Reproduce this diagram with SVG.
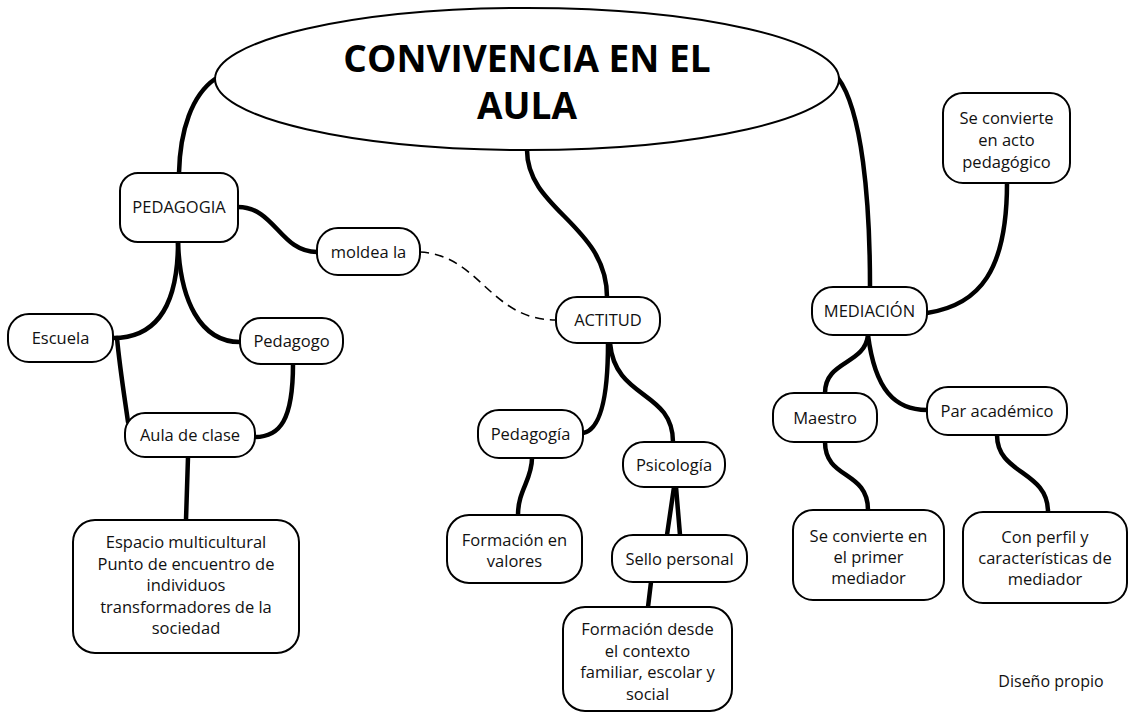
<svg xmlns="http://www.w3.org/2000/svg" width="1130" height="715" viewBox="0 0 1130 715">
<style>
.n{fill:#fff;stroke:#000;stroke-width:2}
.t{font-family:"Open Sans","Noto Sans","Liberation Sans",sans-serif;font-size:16.5px;fill:#111;text-anchor:middle}
.title{font-family:"Open Sans","Noto Sans","Liberation Sans",sans-serif;font-size:37px;font-weight:bold;fill:#000;text-anchor:middle}
.c{fill:none;stroke:#000;stroke-width:4.5;stroke-linecap:round}
.d{fill:none;stroke:#000;stroke-width:1.6;stroke-dasharray:9 6}
</style>
<rect width="1130" height="715" fill="#fff"/>
<g id="connectors">
<path class="c" d="M215,79 C192,95 180,130 179,173"/>
<path class="c" d="M527,150 C527,210 607,225 607,297"/>
<path class="c" d="M838,78 C862,110 870,200 870,287"/>
<path class="c" d="M238,207 C275,207 280,252 317,252"/>
<path class="d" d="M420,252 C480,255 490,320 556,320"/>
<path class="c" d="M178,242 C178,300 160,338 113,338"/>
<path class="c" d="M178,242 C180,300 200,342 240,342"/>
<path class="c" d="M117,338 C120,370 125,400 128,422"/>
<path class="c" d="M293,364 C293,420 280,437 255,437"/>
<path class="c" d="M188,457 L186,520"/>
<path class="c" d="M1007,183 C1007,270 980,305 927,313"/>
<path class="c" d="M608,343 C608,400 600,430 583,433"/>
<path class="c" d="M610,343 C615,400 673,390 673,442"/>
<path class="c" d="M532,458 C532,480 518,490 518,515"/>
<path class="c" d="M674,487 L667,535"/>
<path class="c" d="M676,487 L680,535"/>
<path class="c" d="M651,582 L648,607"/>
<path class="c" d="M868,335 C865,365 825,360 825,393"/>
<path class="c" d="M868,335 C875,390 895,410 927,410"/>
<path class="c" d="M825,442 C825,480 868,470 868,510"/>
<path class="c" d="M997,435 C997,475 1048,470 1048,512"/>
</g>
<g id="title">
<ellipse class="n" cx="527" cy="79" rx="312" ry="71"/>
<text class="title" x="527" y="72">CONVIVENCIA EN EL</text>
<text class="title" x="527" y="119">AULA</text>
</g>
<g id="pedagogia"><rect class="n" x="120" y="173" width="118" height="69" rx="18"/><text class="t" x="179" y="213">PEDAGOGIA</text></g>
<g id="moldea"><rect class="n" x="317" y="228" width="103" height="47" rx="21"/><text class="t" x="368.5" y="257.5">moldea la</text></g>
<g id="escuela"><rect class="n" x="8" y="314" width="105" height="48" rx="21"/><text class="t" x="60.5" y="344">Escuela</text></g>
<g id="pedagogo"><rect class="n" x="240" y="318" width="103" height="46" rx="21"/><text class="t" x="291.5" y="347">Pedagogo</text></g>
<g id="aula"><rect class="n" x="125" y="413" width="130" height="44" rx="20"/><text class="t" x="190" y="441">Aula de clase</text></g>
<g id="espacio"><rect class="n" x="73" y="520" width="226" height="133" rx="22"/>
<text class="t" x="186" y="548">Espacio multicultural</text>
<text class="t" x="186" y="569.5">Punto de encuentro de</text>
<text class="t" x="186" y="591">individuos</text>
<text class="t" x="186" y="612.5">transformadores de la</text>
<text class="t" x="186" y="634">sociedad</text></g>
<g id="actitud"><rect class="n" x="556" y="297" width="104" height="46" rx="21"/><text class="t" x="608" y="326">ACTITUD</text></g>
<g id="pedagogia2"><rect class="n" x="478" y="410" width="105" height="48" rx="21"/><text class="t" x="530.5" y="440">Pedagogía</text></g>
<g id="psicologia"><rect class="n" x="623" y="442" width="102" height="45" rx="21"/><text class="t" x="674" y="470.5">Psicología</text></g>
<g id="valores"><rect class="n" x="447" y="515" width="135" height="68" rx="22"/>
<text class="t" x="514.5" y="546">Formación en</text>
<text class="t" x="514.5" y="567">valores</text></g>
<g id="sello"><rect class="n" x="612" y="535" width="135" height="47" rx="21"/><text class="t" x="679.5" y="564.5">Sello personal</text></g>
<g id="formacion"><rect class="n" x="563" y="607" width="169" height="104" rx="22"/>
<text class="t" x="647.5" y="635">Formación desde</text>
<text class="t" x="647.5" y="657">el contexto</text>
<text class="t" x="647.5" y="678">familiar, escolar y</text>
<text class="t" x="647.5" y="700">social</text></g>
<g id="acto"><rect class="n" x="943" y="93" width="127" height="90" rx="20"/>
<text class="t" x="1006.5" y="124">Se convierte</text>
<text class="t" x="1006.5" y="146">en acto</text>
<text class="t" x="1006.5" y="168">pedagógico</text></g>
<g id="mediacion"><rect class="n" x="812" y="287" width="115" height="48" rx="21"/><text class="t" x="869.5" y="317">MEDIACIÓN</text></g>
<g id="maestro"><rect class="n" x="773" y="393" width="104" height="49" rx="21"/><text class="t" x="825" y="423.5">Maestro</text></g>
<g id="par"><rect class="n" x="927" y="387" width="140" height="48" rx="21"/><text class="t" x="997" y="417">Par académico</text></g>
<g id="primer"><rect class="n" x="793" y="510" width="151" height="90" rx="20"/>
<text class="t" x="868.5" y="542">Se convierte en</text>
<text class="t" x="868.5" y="563">el primer</text>
<text class="t" x="868.5" y="584">mediador</text></g>
<g id="perfil"><rect class="n" x="963" y="512" width="164" height="91" rx="20"/>
<text class="t" x="1045" y="543">Con perfil y</text>
<text class="t" x="1045" y="564">características de</text>
<text class="t" x="1045" y="585">mediador</text></g>
<text class="t" x="1051" y="687" style="font-size:16px">Diseño propio</text>
</svg>
